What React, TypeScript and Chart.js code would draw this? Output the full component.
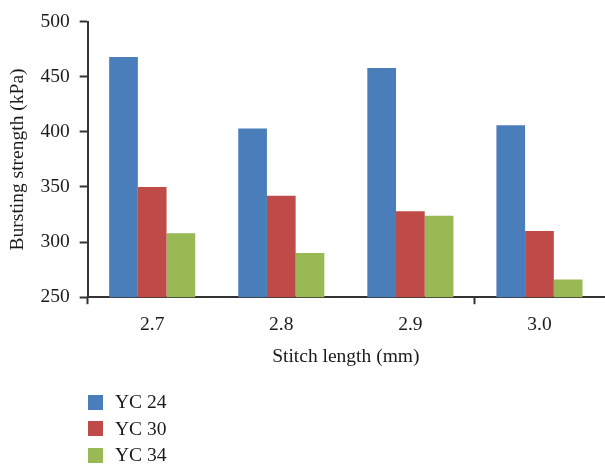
import React, { useEffect, useRef } from "react";
import { Chart, registerables } from "chart.js";

Chart.register(...registerables);

const categories = ["2.7", "2.8", "2.9", "3.0"];
const seriesNames = ["YC 24", "YC 30", "YC 34"];
const yc24 = [468, 403, 458, 406];
const yc30 = [350, 342, 328, 310];
const yc34 = [308, 290, 324, 266];
const colors = ["#4A7EBB", "#BE4B48", "#98B954"];
const yTicks = [250, 300, 350, 400, 450, 500];

const FONT = "'Liberation Serif', 'Times New Roman', serif";
const TEXT = "#1a1a1a";
const AXIS = "#333333";
const FS = 19.5;

export default function App() {
  const ref = useRef<HTMLCanvasElement | null>(null);
  useEffect(() => {
    if (!ref.current) return;
    const values = [yc24, yc30, yc34];
    const chart = new Chart(ref.current, {
      type: "bar",
      data: {
        labels: categories,
        datasets: seriesNames.map((name, i) => ({
          label: name,
          data: values[i],
          backgroundColor: colors[i],
          borderWidth: 0,
          categoryPercentage: 0.667,
          barPercentage: 1.0,
        })),
      },
      options: {
        animation: false,
        responsive: false,
        maintainAspectRatio: false,
        layout: { padding: { top: 5, right: 1, bottom: 97, left: 6 } },
        plugins: {
          legend: { display: false },
          tooltip: { enabled: false },
        },
        scales: {
          x: {
            offset: true,
            border: { display: true, color: AXIS, width: 2 },
            grid: {
              offset: true,
              drawOnChartArea: false,
              drawTicks: true,
              tickLength: 7,
              tickWidth: 2,
              tickColor: (ctx: any) =>
                ctx.index === 0 || ctx.index === 3 ? AXIS : "rgba(0,0,0,0)",
            },
            ticks: { color: TEXT, font: { family: FONT, size: FS }, padding: 9 },
            title: {
              display: true,
              text: "Stitch length (mm)",
              color: TEXT,
              font: { family: FONT, size: FS },
              padding: { top: 0, bottom: 0 },
            },
          },
          y: {
            min: 250,
            max: 500,
            afterBuildTicks: (axis: any) => {
              axis.ticks = yTicks.map((v) => ({ value: v }));
            },
            border: { display: true, color: AXIS, width: 2 },
            grid: {
              drawOnChartArea: false,
              drawTicks: true,
              tickLength: 8,
              tickWidth: 2,
              tickColor: AXIS,
            },
            ticks: { color: TEXT, font: { family: FONT, size: FS }, padding: 10 },
            title: {
              display: true,
              text: "Bursting strength (kPa)",
              color: TEXT,
              font: { family: FONT, size: FS },
              padding: { top: 0, bottom: 1 },
            },
          },
        },
      },
    });
    return () => chart.destroy();
  }, []);

  return (
    <div style={{ position: "absolute", left: 0, top: 0, width: 605, height: 466, background: "#fff" }}>
      <canvas ref={ref} width={605} height={466} style={{ display: "block" }} />
      {seriesNames.map((name, i) => (
        <div
          key={name}
          style={{
            position: "absolute",
            left: 88,
            top: 393 + i * 26.5,
            height: 18,
            display: "flex",
            alignItems: "center",
            fontFamily: FONT,
            fontSize: FS,
            color: TEXT,
          }}
        >
          <span style={{ display: "inline-block", width: 15, height: 15, background: colors[i], marginRight: 12 }} />
          <span>{name}</span>
        </div>
      ))}
    </div>
  );
}
